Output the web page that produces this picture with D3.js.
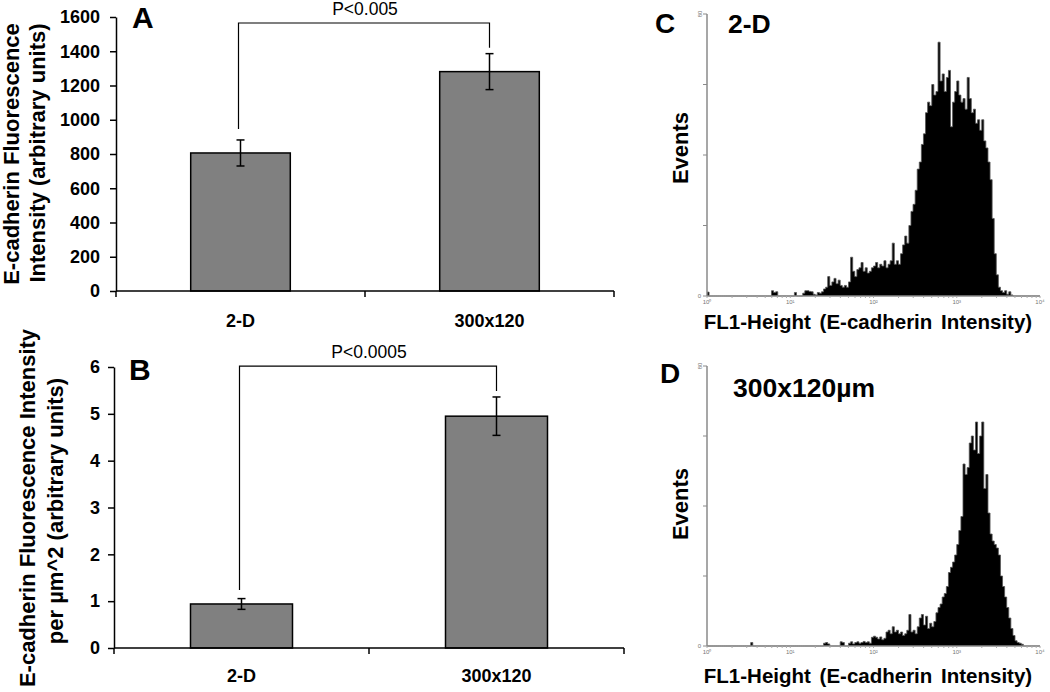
<!DOCTYPE html>
<html><head><meta charset="utf-8">
<script src="https://cdn.jsdelivr.net/npm/d3@7"></script>
<style>body{margin:0;background:#fff} svg text{font-family:"Liberation Sans",Arial,sans-serif}</style>
</head><body><svg id="c" width="1050" height="692"></svg>
<script>
// ---------------- DATA ----------------
const categories = ["2-D", "300x120"];
const meansA = [806, 1281];
const errorsA = [76, 105];
const ticksA = [0, 200, 400, 600, 800, 1000, 1200, 1400, 1600];
const meansB = [0.94, 4.95];
const errorsB = [0.115, 0.41];
const ticksB = [0, 1, 2, 3, 4, 5, 6];
const sigLabels = ["P<0.005", "P<0.0005"];
const sigTop = [1565, 6.02];
const sigLeftEnd = [946, 1.24];
const sigRightEnd = [1420, 5.49];
const titleA = ["E-cadherin Fluorescence", "Intensity (arbitrary units)"];
const titleB = ["E-cadherin Fluorescence Intensity", "per µm^2 (arbitrary units)"];

// flow cytometry histograms: counts per bin, bins 0.025 log10 units wide starting at 10^0
const histBinStep = 0.025;
const histC = [
  1.1,0,0,0,0,0,0,0,0,0,
  0,0,0,0,0,0,0,0,0,0,
  0,0,0,0,0,0,0,0,0,0,
  0,1.5,1.0,1.2,0,0,0,0,0,0,
  0,0,1.0,0,0,0,0.8,1.5,1.5,1.3,
  1.2,0.5,0.3,1.0,0.8,1.2,2.0,2.5,5.5,3.0,
  4.0,5.0,3.5,4.5,3.0,2.5,3.0,2.5,4.0,11,
  7,5.5,7.5,8,9.5,7,8,6.5,7,8,
  8.5,9.5,8,9,8.5,10,8,9,10,15,
  9,10,9,12,14.5,17,15,20,24,26,
  30,36,38,43,46,52,55,54,60,57,
  58,72,61,63,58,62,64,48,55,58,
  61,57,55,56,53,62,56,52,53,49,
  50,47,50,44,42,38,33,22,12,6,
  2.5,1.5,1.0,1.5,0.5,1.2,0.3,0,0,0,
  0,0,0,0,0,0,0,0,0,0
];
const histD = [
  0,0,0,0,0,0,0,0,0,0,
  0,0,0,0,0,0,0,0,0,0,
  0,1.0,0,0,0,0,0,0,0,0,
  0,0,0,0,0,0,0,0,0,0,
  0,0,0,0,0,0,0,0,0,0,
  0,0,0,0,0,0,0.8,1.0,0.6,0,
  0,0,0,0,1.2,1.0,0,0,0.8,1.2,
  0.6,1.0,1.2,0.8,1.0,1.3,1.0,1.2,0.8,2.5,
  2.8,2.5,2.0,2.6,1.8,2.2,4.0,4.5,3.5,5.5,
  4.0,4.5,3.5,4.0,3.0,3.5,4.5,9.0,4.0,4.5,
  3.5,5.5,8.0,9.0,6.0,8.5,5.0,6.5,5.5,7.0,
  9.5,11,12,14,15,17,21,22.5,24,26,
  29,33,37,52,49,51,58,60,56,64,
  55,60,64,45,49,38,32,30,29,28,
  26,20,17,14,11,8,5,3,1.5,1.0,
  0.8,0.5,0,0,0,0,0,0,0,0
];
const histXTicks = [1, 10, 100, 1000, 10000];
const histXTickLabels = ["10⁰", "10¹", "10²", "10³", "10⁴"];
const histYTicks = [0, 20, 40, 60, 80];
const histXTitle = "FL1-Height (E-cadherin Intensity)";

// ---------------- DRAW ----------------
const svg = d3.select("#c");
const FONT = '"Liberation Sans",Arial,sans-serif';

function barPanel(o) {
  const g = svg.append("g");
  const x = d3.scaleBand().domain(categories).range([o.x0, o.x1]).paddingInner(0.6).paddingOuter(0.3);
  const y = d3.scaleLinear().domain([0, o.max]).range([o.yB, o.yT]);
  const ya = g.append("g").attr("transform", `translate(${o.x0},0)`)
    .call(d3.axisLeft(y).tickValues(o.ticks).tickFormat(d3.format("d")).tickSize(6).tickSizeOuter(0).tickPadding(o.pad));
  ya.select(".domain").attr("stroke", "#000").attr("stroke-width", 1.5);
  ya.selectAll(".tick line").attr("stroke", "#000").attr("stroke-width", 1.5);
  ya.selectAll(".tick text").attr("font-size", 18).attr("font-weight", "bold").attr("fill", "#000")
    .attr("font-family", FONT);
  g.selectAll("rect.bar").data(categories).enter().append("rect")
    .attr("x", d => x(d)).attr("width", x.bandwidth())
    .attr("y", (d, i) => y(o.means[i])).attr("height", (d, i) => o.yB - y(o.means[i]))
    .attr("fill", "#808080").attr("stroke", "#000").attr("stroke-width", 1.5);
  g.append("line").attr("x1", o.x0).attr("x2", o.x1).attr("y1", o.yB).attr("y2", o.yB)
    .attr("stroke", "#000").attr("stroke-width", 1.5);
  [o.x0, o.x0 + x.step() * (0.3 + 0.6 / 2) + x.bandwidth(), o.x1].forEach(v => {
    g.append("line").attr("x1", v).attr("x2", v).attr("y1", o.yB).attr("y2", o.yB + 6)
      .attr("stroke", "#000").attr("stroke-width", 1.5);
  });
  g.selectAll("text.cat").data(categories).enter().append("text")
    .attr("x", d => x(d) + x.bandwidth() / 2).attr("y", o.catY)
    .attr("text-anchor", "middle").attr("font-size", 18).attr("font-weight", "bold").text(d => d);
  categories.forEach((c, i) => {
    const cx = x(c) + x.bandwidth() / 2;
    const t = y(o.means[i] + o.errs[i]), b = y(o.means[i] - o.errs[i]);
    g.append("line").attr("x1", cx).attr("x2", cx).attr("y1", t).attr("y2", b).attr("stroke", "#000").attr("stroke-width", 1.5);
    [t, b].forEach(v => g.append("line").attr("x1", cx - 4).attr("x2", cx + 4).attr("y1", v).attr("y2", v).attr("stroke", "#000").attr("stroke-width", 1.5));
  });
  const xl = x(categories[0]) + x.bandwidth() / 2 - 2, xr = x(categories[1]) + x.bandwidth() / 2;
  g.append("path").attr("d", `M${xl},${y(o.sigLeft)}V${y(o.sigTop)}H${xr}V${y(o.sigRight)}`)
    .attr("fill", "none").attr("stroke", "#000").attr("stroke-width", 1.2);
  g.append("text").attr("x", (xl + xr) / 2 + 1).attr("y", y(o.sigTop) - 8).attr("text-anchor", "middle")
    .attr("font-size", 17.5).text(o.sigLabel);
  g.append("text").attr("x", o.letterX).attr("y", o.letterY).attr("font-size", 30).attr("font-weight", "bold").text(o.letter);
  o.title.forEach((t, k) => {
    g.append("text").attr("transform", `translate(${o.titleX[k]},${o.titleY[k]}) rotate(-90)`)
      .attr("text-anchor", "middle").attr("font-size", 22).attr("font-weight", "bold").text(t);
  });
}

barPanel({x0: 116, x1: 614, yT: 17, yB: 291, max: 1600, ticks: ticksA, pad: 10, means: meansA, errs: errorsA,
  sigTop: sigTop[0], sigLeft: sigLeftEnd[0], sigRight: sigRightEnd[0], sigLabel: sigLabels[0],
  catY: 327, letter: "A", letterX: 132, letterY: 28, title: titleA, titleX: [19, 45], titleY: [154, 153]});
barPanel({x0: 114, x1: 624, yT: 367, yB: 648, max: 6, ticks: ticksB, pad: 8, means: meansB, errs: errorsB,
  sigTop: sigTop[1], sigLeft: sigLeftEnd[1], sigRight: sigRightEnd[1], sigLabel: sigLabels[1],
  catY: 682, letter: "B", letterX: 129, letterY: 380, title: titleB, titleX: [35, 63], titleY: [508, 511]});

function histPanel(o) {
  const g = svg.append("g");
  const x = d3.scaleLog().domain([1, 10000]).range([707, 1040]);
  const y = d3.scaleLinear().domain([0, 80]).range([o.yB, o.yT]);
  const axisCol = "#8a8a8a";
  const pts = o.data.map((d, i) => [Math.pow(10, i * histBinStep), d]);
  pts.push([Math.pow(10, o.data.length * histBinStep), 0]);
  const area = d3.area().x(d => x(d[0])).y0(o.yB).y1(d => y(d[1])).curve(d3.curveStepAfter);
  const line = d3.line().x(d => x(d[0])).y(d => y(d[1])).curve(d3.curveStepAfter);
  g.append("path").attr("d", area(pts)).attr("fill", "#000");
  g.append("path").attr("d", line(pts)).attr("fill", "none").attr("stroke", "#555").attr("stroke-width", 0.8);
  g.append("line").attr("x1", 707).attr("x2", 707).attr("y1", o.yB).attr("y2", o.yT).attr("stroke", axisCol).attr("stroke-width", 1.5);
  g.append("line").attr("x1", 707).attr("x2", 1040).attr("y1", o.yB).attr("y2", o.yB).attr("stroke", axisCol).attr("stroke-width", 1.5);
  histYTicks.forEach(v => g.append("line").attr("x1", 703).attr("x2", 707).attr("y1", y(v)).attr("y2", y(v)).attr("stroke", axisCol).attr("stroke-width", 1));
  x.ticks().forEach(v => g.append("line").attr("x1", x(v)).attr("x2", x(v)).attr("y1", o.yB).attr("y2", o.yB + 2).attr("stroke", "#aaa").attr("stroke-width", 1));
  histXTicks.forEach((v, i) => g.append("text").attr("x", x(v)).attr("y", o.yB + 8).attr("text-anchor", "middle")
    .attr("font-size", 6).attr("fill", "#777").text(histXTickLabels[i]));
  g.append("text").attr("x", 701).attr("y", o.yB + 2).attr("text-anchor", "end").attr("font-size", 6).attr("fill", "#777").text(histYTicks[0]);
  g.append("text").attr("transform", `translate(702,${o.yT}) rotate(-90)`).attr("text-anchor", "middle")
    .attr("font-size", 6).attr("fill", "#777").text(histYTicks[histYTicks.length - 1]);
  g.append("text").attr("x", o.letterX).attr("y", o.letterY).attr("font-size", 28).attr("font-weight", "bold").text(o.letter);
  g.append("text").attr("x", o.subX).attr("y", o.subY).attr("font-size", 26.5).attr("font-weight", "bold").text(o.sub);
  g.append("text").attr("transform", `translate(688,${o.evY}) rotate(-90)`).attr("text-anchor", "middle")
    .attr("font-size", 22).attr("font-weight", "bold").text("Events");
  g.append("text").attr("x", 868).attr("y", o.xtY).attr("text-anchor", "middle").attr("font-size", 20.5)
    .attr("font-weight", "bold").attr("word-spacing", 3).text(histXTitle);
}

histPanel({data: histC, yT: 14, yB: 296, letter: "C", letterX: 655, letterY: 33, sub: "2-D", subX: 728, subY: 33, evY: 148, xtY: 329});
histPanel({data: histD, yT: 366, yB: 646, letter: "D", letterX: 660, letterY: 383, sub: "300x120µm", subX: 733, subY: 397, evY: 504, xtY: 683});
</script></body></html>
